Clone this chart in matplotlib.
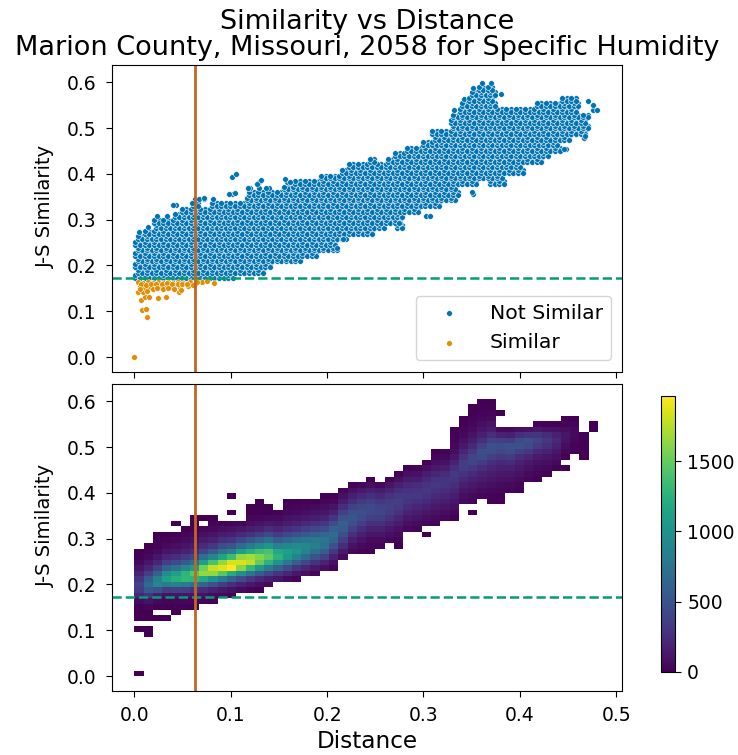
#!/usr/bin/env python3
"""
Similarity vs Distance - scatter and 2D histogram, values read off the chart
"""
import numpy as np
import matplotlib
matplotlib.use('Agg')
import matplotlib.pyplot as plt

# 2D histogram, one entry per distance bin: (first similarity bin, counts upward)
hist_columns = [
    (0, [2,0,0,0,0,0,0,0,3,0,2,4,15,60,200,340,380,300,190,100,45,15,4]),
    (7, [1,2,0,3,6,25,90,300,560,680,560,360,210,110,50,18,4]),
    (10, [2,0,10,40,150,500,900,850,620,380,210,110,50,20,8,2]),
    (10, [2,0,5,20,90,350,820,1120,960,620,360,200,100,50,20,4]),
    (11, [2,8,25,100,380,880,1240,1100,740,440,250,130,70,35,10,0,1]),
    (12, [10,35,110,360,820,1300,1280,900,560,330,180,100,55,25,6]),
    (12, [12,30,100,300,740,1280,1450,1080,700,420,240,140,80,45,22,8,2]),
    (13, [30,90,240,620,1180,1650,1550,1100,700,420,240,140,80,35,0,2]),
    (13, [15,60,180,480,1000,1640,1800,1400,900,560,320,180,100,50,18,3]),
    (14, [40,130,350,800,1450,1880,1650,1150,750,450,270,150,70,15]),
    (14, [20,90,250,620,1200,1965,1850,1350,850,520,300,170,85,20,0,1,0,0,1]),
    (15, [60,180,450,980,1620,1850,1650,1100,680,400,230,120,30]),
    (15, [30,120,320,760,1320,1780,1700,1250,820,500,290,160,70,25,6,2]),
    (15, [15,80,230,560,1060,1500,1600,1350,950,600,350,190,95,35,10,4,1]),
    (16, [50,160,420,820,1260,1480,1400,1050,700,430,250,130,60,15,3]),
    (17, [110,300,620,1020,1260,1180,860,560,340,200,115,60,20]),
    (17, [60,200,440,780,1060,1120,920,650,420,250,150,85,40,18,4]),
    (17, [20,120,300,580,860,1030,930,710,480,300,180,105,55,25,6]),
    (18, [70,200,420,680,880,920,760,550,360,220,130,75,35,8]),
    (18, [30,130,290,500,720,840,780,610,420,270,160,95,50,10]),
    (19, [70,190,370,580,740,760,640,460,310,190,115,65,25,6]),
    (19, [20,80,180,320,480,630,690,600,450,300,180,100,45,12]),
    (21, [60,130,240,360,470,560,590,500,370,260,160,80,20]),
    (22, [40,90,170,270,370,470,520,470,370,260,170,90,20]),
    (22, [20,50,100,170,260,360,440,470,420,330,230,130,40]),
    (22, [10,25,60,110,180,270,360,430,430,360,270,170,70,12]),
    (23, [30,60,110,180,270,350,400,390,320,230,140,50]),
    (24, [40,80,130,200,280,350,380,350,280,190,100,20]),
    (23, [5,25,50,90,140,210,280,340,360,330,260,170,80,15]),
    (26, [40,80,130,190,250,300,320,290,220,140,70,15]),
    (26, [25,55,100,150,210,270,310,300,240,160,85,20]),
    (25, [1,0,40,75,120,170,225,280,310,290,230,150,70,10]),
    (27, [25,50,90,130,180,235,285,310,280,210,130,70,25,5]),
    (28, [35,65,105,150,200,255,300,300,240,160,90,40,10]),
    (28, [15,40,70,110,150,200,255,300,320,270,190,120,70,40,20,8,2]),
    (31, [40,75,115,165,225,290,350,350,280,200,130,80,45,25,10,3]),
    (29, [1,0,20,50,85,125,175,235,310,400,400,320,220,150,95,60,35,18,8,2]),
    (32, [30,60,95,140,190,260,340,440,470,380,260,170,110,70,40,20,8,2]),
    (31, [8,20,45,75,110,150,200,270,360,460,480,370,250,160,100,60,30,10,2]),
    (31, [5,15,35,60,90,125,170,230,310,410,470,360,190,60,0,0,1]),
    (33, [25,50,80,120,170,240,340,450,480,340,170,50]),
    (33, [10,30,55,85,125,180,260,370,480,440,250,70]),
    (35, [25,50,85,130,200,310,440,470,300,90]),
    (35, [10,30,55,90,140,230,340,400,300,120,20]),
    (36, [15,40,70,110,180,270,320,240,90,15]),
    (37, [15,40,70,120,180,230,180,80,15]),
    (37, [2,0,15,35,65,100,110,75,30,8]),
    (40, [8,20,35,50,50,25,6]),
    (39, [2,5,10,12,8]),
    (44, [1,2]),
]

# points under the threshold, read one by one
similar_x = [0.0, 0.0128, 0.0080, 0.0121, 0.0066, 0.0111, 0.0156, 0.0249, 0.0325, 0.0467,
             0.0042, 0.0094, 0.0059, 0.0111, 0.0163, 0.0215, 0.0267, 0.0319, 0.0370, 0.0422,
             0.0474, 0.0560, 0.0630, 0.0699, 0.0827, 0.0042, 0.0094, 0.0145, 0.0197, 0.0249,
             0.0301, 0.0353, 0.0405, 0.0457, 0.0509, 0.0578, 0.0654, 0.0751, 0.0070, 0.0120,
             0.0175, 0.0230, 0.0285, 0.0340, 0.0395, 0.0450, 0.0500, 0.0550, 0.0610, 0.0060,
             0.0130, 0.0190, 0.0240, 0.0295, 0.0350, 0.0410, 0.0480]
similar_y = [0.001, 0.088, 0.1026, 0.1048, 0.1245, 0.1303, 0.1317, 0.1288, 0.1317, 0.1412,
             0.1419, 0.1419, 0.1535, 0.1499, 0.1535, 0.1571, 0.1535, 0.1571, 0.1535, 0.1571,
             0.1535, 0.155, 0.160, 0.163, 0.1615, 0.1644, 0.1622, 0.1644, 0.1622, 0.1644,
             0.1622, 0.1644, 0.1622, 0.1644, 0.1622, 0.1644, 0.1644, 0.1666, 0.1585, 0.1575,
             0.1590, 0.1605, 0.1590, 0.1610, 0.1590, 0.1600, 0.1585, 0.1590, 0.1570, 0.1480,
             0.1440, 0.1490, 0.1500, 0.1490, 0.1500, 0.1480, 0.1470]

# stray points outside the main band
stray_x = [0.1052, 0.0405, 0.0595, 0.0674, 0.0723, 0.0986, 0.1041, 0.1183, 0.1269, 0.1311,
           0.1362, 0.1560, 0.1615, 0.2099, 0.2161, 0.3507, 0.2746, 0.3068, 0.4458, 0.4709,
           0.4796, 0.4675]
stray_y = [0.3996, 0.3319, 0.3355, 0.3442, 0.3464, 0.3552, 0.3588, 0.3697, 0.3770, 0.3858,
           0.3683, 0.3885, 0.3825, 0.2387, 0.2570, 0.3610, 0.2919, 0.3086, 0.4534, 0.5597,
           0.5394, 0.4826]

threshold_y = 0.1725
threshold_x = 0.063
x_ticks = [0.0, 0.1, 0.2, 0.3, 0.4, 0.5]
y_ticks = [0.0, 0.1, 0.2, 0.3, 0.4, 0.5, 0.6]
cbar_ticks = [0, 500, 1000, 1500]

BLUE = '#0173b2'
ORANGE = '#de8f05'
GREEN = '#029e73'
VLINE = '#c4661f'

# build grid from the columns
n_bins = 50
x_edges = np.arange(n_bins + 1) * 0.00962
y_edges = np.arange(n_bins + 1) * 0.0121
counts = np.zeros((n_bins, n_bins))
for col, (start, values) in enumerate(hist_columns):
    counts[start:start + len(values), col] = values

# the scatter band is drawn from the occupied histogram cells
dx = x_edges[1] - x_edges[0]
dy = y_edges[1] - y_edges[0]
band_x = []
band_y = []
for row in range(n_bins):
    for col in range(n_bins):
        cx = x_edges[col] + dx / 2
        cy = y_edges[row] + dy / 2
        if counts[row, col] == 0 or cy < threshold_y:
            continue
        if counts[row, col] < 5:
            band_x.append(cx)
            band_y.append(cy)
            continue
        shift = 0.25 * dx if row % 2 else -0.25 * dx
        for fx, fy in [(-0.25, -0.25), (0.25, 0.25), (0.25, -0.25), (-0.25, 0.25)]:
            band_x.append(cx + fx * dx + shift * 0.5)
            band_y.append(cy + fy * dy)

W, H = 738, 755
fig = plt.figure(figsize=(W / 100, H / 100), dpi=100)
ax1 = fig.add_axes([112 / W, 1 - 371.7 / H, 509.7 / W, 306.7 / H])
ax2 = fig.add_axes([112 / W, 1 - 690.7 / H, 509.7 / W, 306.7 / H])
cax = fig.add_axes([661 / W, 1 - 671.7 / H, 14 / W, 275.7 / H])

# top panel
ax1.scatter(band_x + stray_x, band_y + stray_y, s=17, color=BLUE, edgecolors='white',
            linewidths=0.4, label='Not Similar')
ax1.scatter(similar_x, similar_y, s=17, color=ORANGE, edgecolors='white',
            linewidths=0.4, label='Similar')
ax1.legend(loc='lower right', fontsize=14.7, bbox_to_anchor=(0.979, 0.038), borderaxespad=0,
           handlelength=2.4)

# bottom panel
masked = np.ma.masked_equal(counts, 0)
mesh = ax2.pcolormesh(x_edges, y_edges, masked, cmap='viridis', vmin=0, vmax=counts.max())
cbar = fig.colorbar(mesh, cax=cax)
cbar.set_ticks(cbar_ticks)
cbar.ax.tick_params(labelsize=13.5, length=4.3, pad=4.5)

for ax in (ax1, ax2):
    ax.axhline(threshold_y, color=GREEN, linestyle='--', linewidth=1.8)
    ax.axvline(threshold_x, color=VLINE, linewidth=2)
    ax.set_xlim(-0.0231, 0.5056)
    ax.set_ylim(-0.032, 0.6376)
    ax.set_xticks(x_ticks)
    ax.set_yticks(y_ticks)
    ax.tick_params(labelsize=13.5, length=4.3, pad=7)
    ax.set_ylabel('J-S Similarity', fontsize=14)
    ax.yaxis.set_label_coords(-0.112, 0.54)

ax1.set_xticklabels([])
ax2.set_xlabel('Distance', fontsize=16.7, labelpad=3)
ax1.set_title('Similarity vs Distance\nMarion County, Missouri, 2058 for Specific Humidity',
              fontsize=19.5, pad=7, linespacing=1.03)

plt.savefig('out.png', dpi=100)
